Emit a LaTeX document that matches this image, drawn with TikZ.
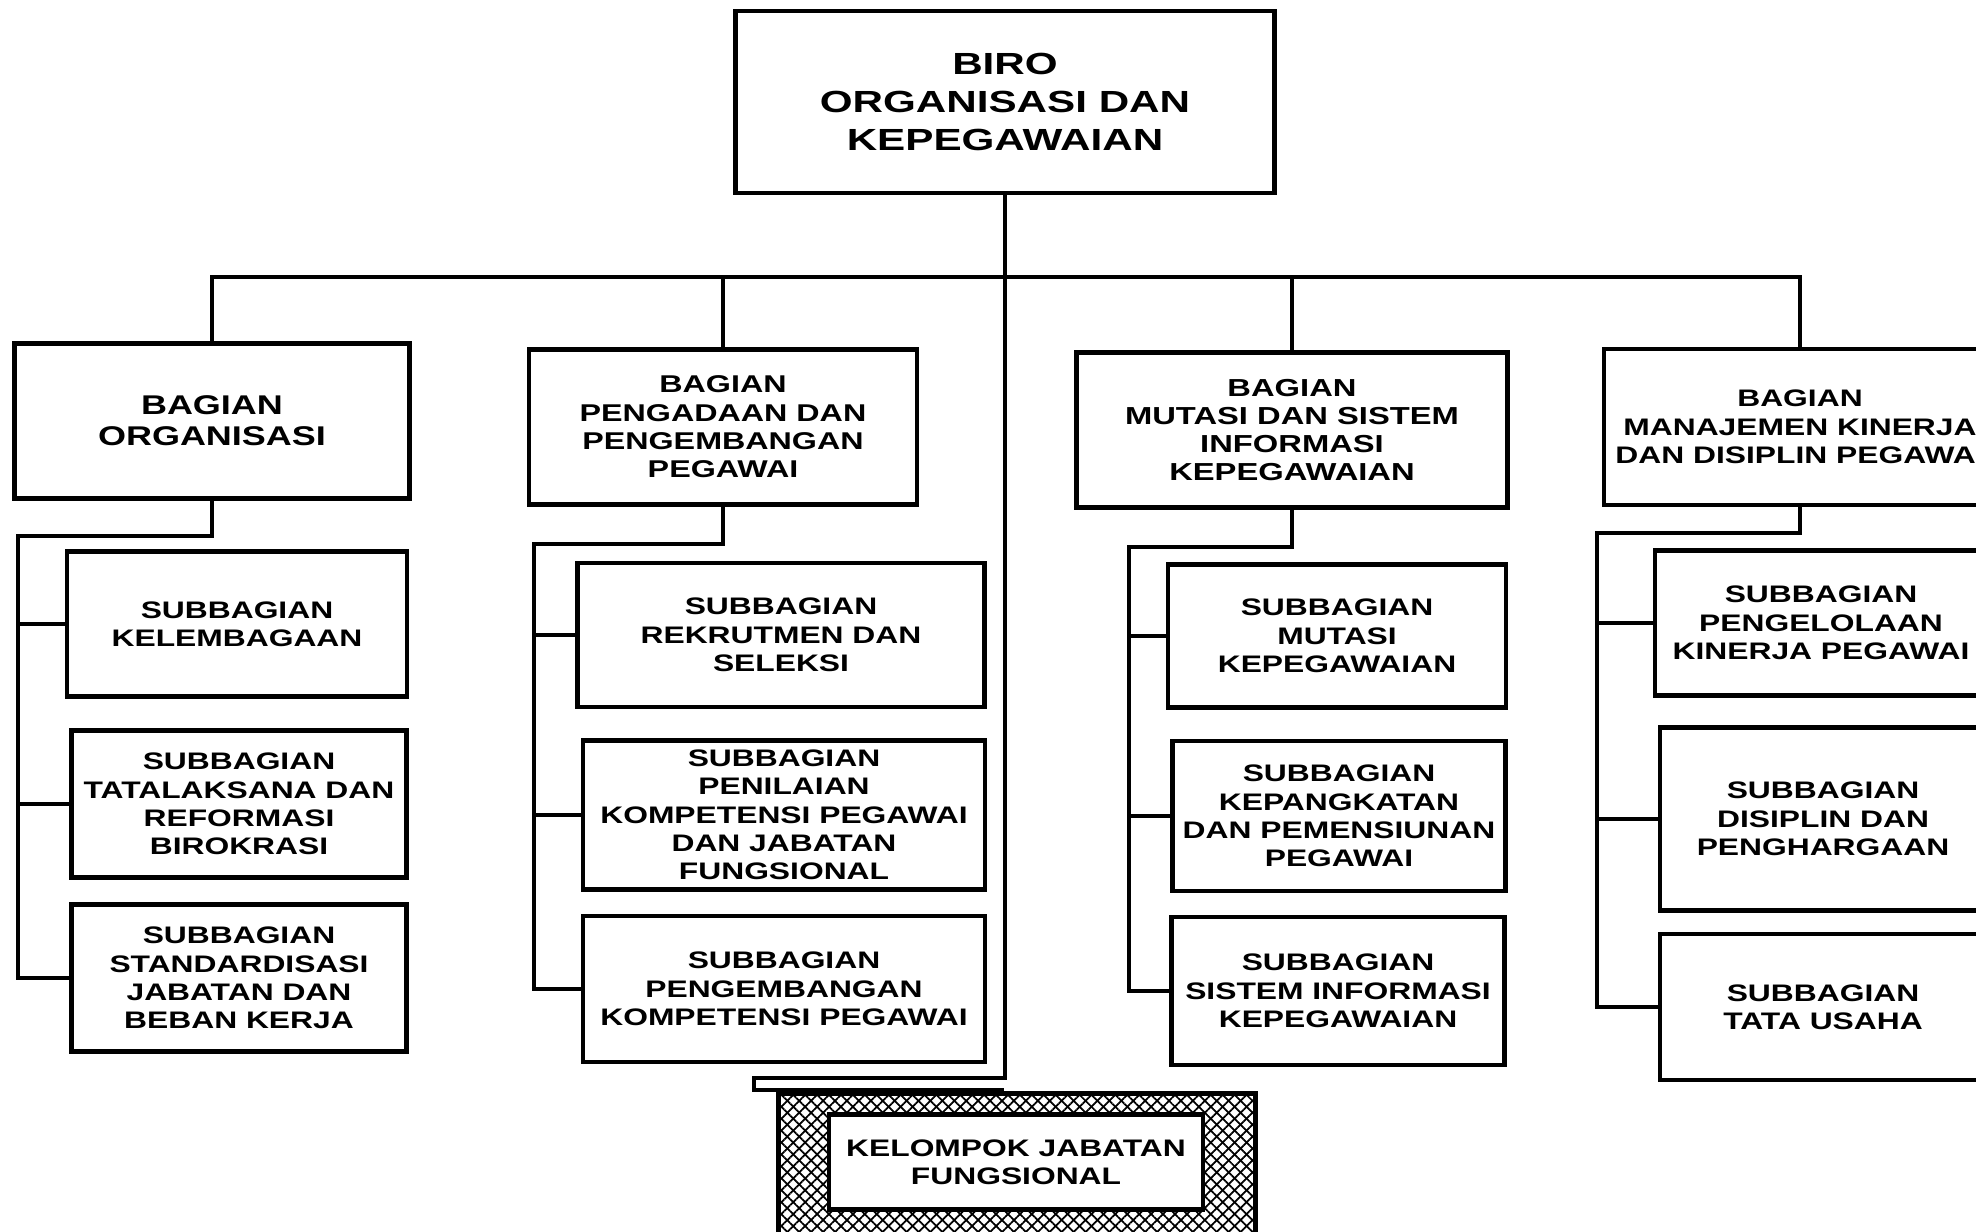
\documentclass[tikz,border=0pt]{standalone}
\usepackage{fontspec}
\newfontfamily\orgfont[FakeStretch=1.33]{Liberation Sans}
\newfontfamily\birofont[FakeStretch=1.38]{Liberation Sans}
\usetikzlibrary{calc, patterns.meta}

\begin{document}
\begin{tikzpicture}[x=0.1mm, y=-0.1mm, every text node part/.style={align=center}]

\tikzstyle{box}=[draw, line width=1.2pt, rectangle, inner sep=0pt, fill=white,
  font=\orgfont\bfseries\fontsize{6.8}{8.05}\selectfont]
\tikzstyle{conn}=[draw, line width=1.2pt]
\tikzstyle{mesh}=[draw, line width=1.2pt, inner sep=0pt,
  pattern={Lines[angle=45, distance=2.4pt, line width=0.5pt]},
  preaction={pattern={Lines[angle=-45, distance=2.4pt, line width=0.5pt]}}]

\useasboundingbox (0,0) rectangle (1976,1232);
\clip (0,0) rectangle (1976,1232);

% top
\node (biro) [box, minimum width=53.9mm, minimum height=18.2mm,
  font=\birofont\bfseries\fontsize{8.7}{10.8}\selectfont] at (1005,102)
  {BIRO\\ORGANISASI DAN\\KEPEGAWAIAN};

% bagian
\node (borg)  [box, minimum width=39.5mm, minimum height=15.5mm,
  font=\orgfont\bfseries\fontsize{7.7}{8.9}\selectfont] at (212,421)
  {BAGIAN\\ORGANISASI};
\node (bpeng) [box, minimum width=38.8mm, minimum height=15.5mm,
  font=\orgfont\bfseries\fontsize{6.9}{8.05}\selectfont] at (723,427)
  {BAGIAN\\PENGADAAN DAN\\PENGEMBANGAN\\PEGAWAI};
\node (bmut)  [box, minimum width=43.1mm, minimum height=15.5mm,
  font=\orgfont\bfseries\fontsize{7.0}{8.05}\selectfont] at (1292,430)
  {BAGIAN\\MUTASI DAN SISTEM\\INFORMASI\\KEPEGAWAIAN};
\node (bmk)   [box, minimum width=39.2mm, minimum height=15.6mm] at (1800,427)
  {BAGIAN\\MANAJEMEN KINERJA\\DAN DISIPLIN PEGAWAI};

% subbagian
\node (sorg1) [box, minimum width=34.0mm, minimum height=14.5mm] at (237,624)
  {SUBBAGIAN\\KELEMBAGAAN};
\node (sorg2) [box, minimum width=33.5mm, minimum height=14.7mm] at (239,804)
  {SUBBAGIAN\\TATALAKSANA DAN\\REFORMASI\\BIROKRASI};
\node (sorg3) [box, minimum width=33.5mm, minimum height=14.7mm] at (239,978)
  {SUBBAGIAN\\STANDARDISASI\\JABATAN DAN\\BEBAN KERJA};

\node (speng1) [box, minimum width=40.7mm, minimum height=14.4mm] at (781,635)
  {SUBBAGIAN\\REKRUTMEN DAN\\SELEKSI};
\node (speng2) [box, minimum width=40.2mm, minimum height=14.9mm] at (784,815)
  {SUBBAGIAN\\PENILAIAN\\KOMPETENSI PEGAWAI\\DAN JABATAN\\FUNGSIONAL};
\node (speng3) [box, minimum width=40.2mm, minimum height=14.6mm] at (784,989)
  {SUBBAGIAN\\PENGEMBANGAN\\KOMPETENSI PEGAWAI};

\node (smut1) [box, minimum width=33.8mm, minimum height=14.3mm] at (1337,636)
  {SUBBAGIAN\\MUTASI\\KEPEGAWAIAN};
\node (smut2) [box, minimum width=33.3mm, minimum height=15.0mm] at (1339,816)
  {SUBBAGIAN\\KEPANGKATAN\\DAN PEMENSIUNAN\\PEGAWAI};
\node (smut3) [box, minimum width=33.3mm, minimum height=14.8mm] at (1338,991)
  {SUBBAGIAN\\SISTEM INFORMASI\\KEPEGAWAIAN};

\node (smk1) [box, minimum width=33.2mm, minimum height=14.5mm] at (1821,623)
  {SUBBAGIAN\\PENGELOLAAN\\KINERJA PEGAWAI};
\node (smk2) [box, minimum width=32.6mm, minimum height=18.3mm] at (1823,819)
  {SUBBAGIAN\\DISIPLIN DAN\\PENGHARGAAN};
\node (smk3) [box, minimum width=32.6mm, minimum height=14.6mm] at (1823,1007)
  {SUBBAGIAN\\TATA USAHA};

% kelompok jabatan fungsional
\node (kjf)   [mesh, minimum width=47.7mm, minimum height=16.7mm] at (1017,1177) {};
\node (kjfin) [box, minimum width=37.4mm, minimum height=9.5mm] at (1016,1162)
  {KELOMPOK JABATAN\\FUNGSIONAL};

% junctions
\coordinate (bus)   at (1005,277);
\coordinate (jorg)  at (18,536);
\coordinate (jpeng) at (534,544);
\coordinate (jmut)  at (1129,547);
\coordinate (jmk)   at (1597,533);
\coordinate (jkjf)  at (754,1078);
\coordinate (ekjf)  at (1004,1090);

\path [conn] (biro.south) -- (bus);
\path [conn] (borg.north) |- (bmk.north |- bus) -- (bmk.north);
\path [conn] (bpeng.north) -- (bpeng.north |- bus);
\path [conn] (bmut.north) -- (bmut.north |- bus);
\path [conn] (bus) |- (jkjf) |- (ekjf);

\path [conn] (borg.south) |- (jorg) |- (sorg1.west);
\path [conn] (jorg) |- (sorg2.west);
\path [conn] (jorg) |- (sorg3.west);

\path [conn] (bpeng.south) |- (jpeng) |- (speng1.west);
\path [conn] (jpeng) |- (speng2.west);
\path [conn] (jpeng) |- (speng3.west);

\path [conn] (bmut.south) |- (jmut) |- (smut1.west);
\path [conn] (jmut) |- (smut2.west);
\path [conn] (jmut) |- (smut3.west);

\path [conn] (bmk.south) |- (jmk) |- (smk1.west);
\path [conn] (jmk) |- (smk2.west);
\path [conn] (jmk) |- (smk3.west);
\end{tikzpicture}
\end{document}
